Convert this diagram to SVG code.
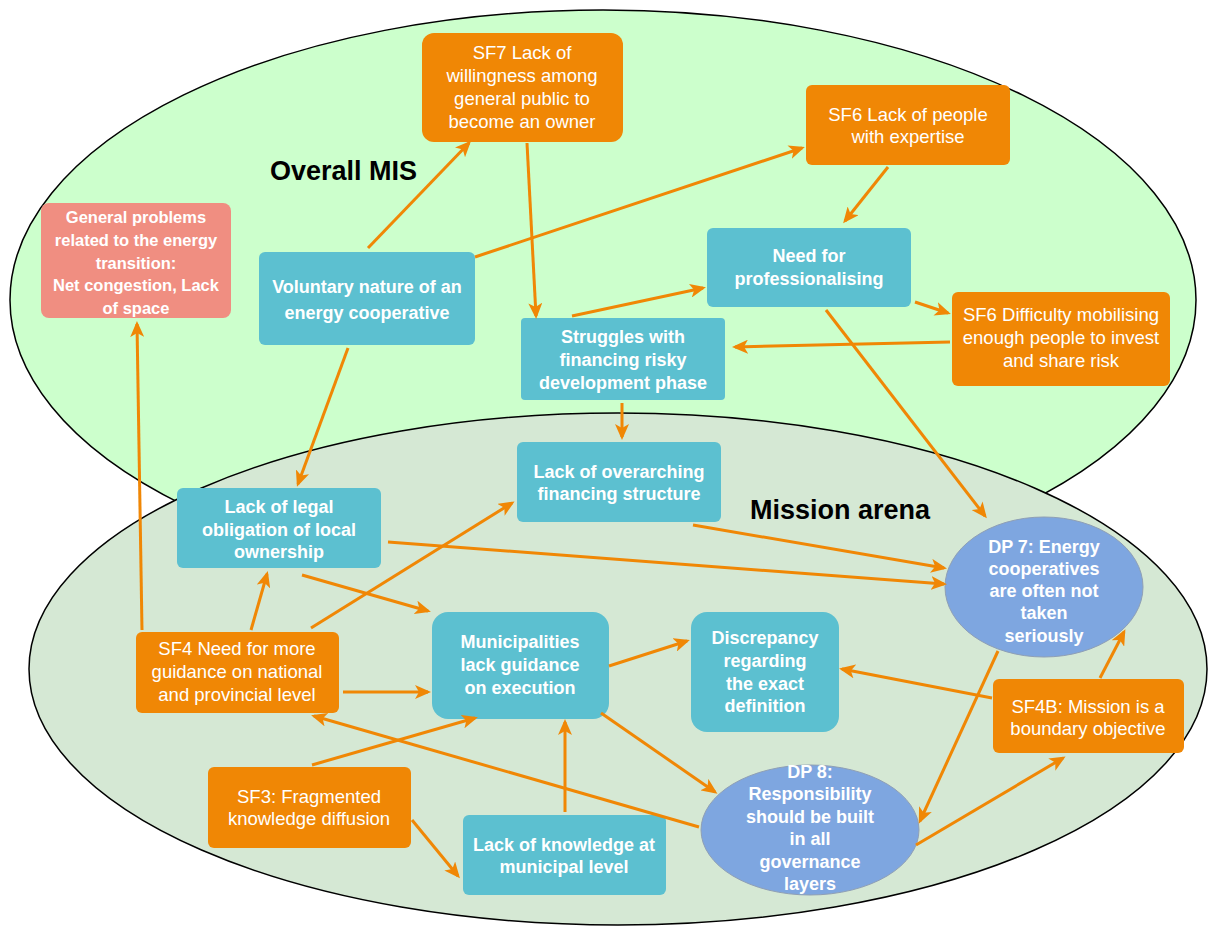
<svg xmlns="http://www.w3.org/2000/svg" width="1210" height="927" viewBox="0 0 1210 927">
<style>
.bg{fill:#ffffff}
.arena{stroke:#000;stroke-width:1.5}
.or{fill:#f08705}
.tl{fill:#5cc0d0}
.bl{fill:#7ea6e0;stroke:#8f9fb5;stroke-width:1}
.sa{fill:#f08e81}
.t{font-family:"Liberation Sans",Arial,sans-serif;fill:#fff;text-anchor:middle}
.tr{font-size:18.5px}
.tb{font-size:18px;font-weight:bold}
.tg{font-size:16.5px;font-weight:bold}
.title{font-family:"Liberation Sans",Arial,sans-serif;font-size:27px;font-weight:bold;fill:#000}
.c line,.c path{stroke:#f08705;stroke-width:3;fill:none;marker-end:url(#ah)}
</style>
<defs>
<marker id="ah" markerUnits="userSpaceOnUse" markerWidth="16" markerHeight="14" refX="13" refY="7" orient="auto">
<path d="M0,0 L16,7 L0,14 L4,7 z" fill="#f08705"/>
</marker>
</defs>
<rect class="bg" x="0" y="0" width="1210" height="927"/>
<g id="overall-mis">
<ellipse class="arena" cx="603" cy="300" rx="593" ry="290" fill="#ccffcc"/>
<text class="title" x="270" y="180">Overall MIS</text>
</g>
<g id="mission-arena">
<ellipse class="arena" cx="618" cy="669" rx="589" ry="256" fill="#d5e8d4"/>
<text class="title" x="750" y="519">Mission arena</text>
</g>

<g id="general-problems">
<rect class="sa" x="41" y="203" width="190" height="115" rx="8"/>
<text class="t tg" x="136"><tspan x="136" y="223">General problems</tspan><tspan x="136" y="246">related to the energy</tspan><tspan x="136" y="269">transition:</tspan><tspan x="136" y="291">Net congestion, Lack</tspan><tspan x="136" y="314">of space</tspan></text>
</g>
<g id="sf7">
<rect class="or" x="422" y="33" width="201" height="109" rx="12"/>
<text class="t tr" x="522"><tspan x="522" y="59">SF7 Lack of</tspan><tspan x="522" y="82">willingness among</tspan><tspan x="522" y="105">general public to</tspan><tspan x="522" y="128">become an owner</tspan></text>
</g>
<g id="sf6-expertise">
<rect class="or" x="806" y="85" width="204" height="80" rx="6"/>
<text class="t tr" x="908"><tspan x="908" y="121">SF6 Lack of people</tspan><tspan x="908" y="143">with expertise</tspan></text>
</g>
<g id="voluntary">
<rect class="tl" x="259" y="252" width="216" height="93" rx="6"/>
<text class="t tb" x="367"><tspan x="367" y="293">Voluntary nature of an</tspan><tspan x="367" y="319">energy cooperative</tspan></text>
</g>
<g id="professionalising">
<rect class="tl" x="707" y="228" width="204" height="79" rx="6"/>
<text class="t tb" x="809"><tspan x="809" y="262">Need for</tspan><tspan x="809" y="285">professionalising</tspan></text>
</g>
<g id="struggles">
<rect class="tl" x="521" y="318" width="204" height="82" rx="4"/>
<text class="t tb" x="623"><tspan x="623" y="343">Struggles with</tspan><tspan x="623" y="366">financing risky</tspan><tspan x="623" y="389">development phase</tspan></text>
</g>
<g id="sf6-mobilising">
<rect class="or" x="952" y="292" width="218" height="94" rx="6"/>
<text class="t tr" x="1061"><tspan x="1061" y="321">SF6 Difficulty mobilising</tspan><tspan x="1061" y="344">enough people to invest</tspan><tspan x="1061" y="367">and share risk</tspan></text>
</g>
<g id="financing-structure">
<rect class="tl" x="517" y="442" width="204" height="80" rx="6"/>
<text class="t tb" x="619"><tspan x="619" y="478">Lack of overarching</tspan><tspan x="619" y="500">financing structure</tspan></text>
</g>
<g id="legal-obligation">
<rect class="tl" x="177" y="488" width="204" height="80" rx="6"/>
<text class="t tb" x="279"><tspan x="279" y="513">Lack of legal</tspan><tspan x="279" y="536">obligation of local</tspan><tspan x="279" y="558">ownership</tspan></text>
</g>
<g id="sf4">
<rect class="or" x="136" y="632" width="203" height="81" rx="6"/>
<text class="t tr" x="237"><tspan x="237" y="655">SF4 Need for more</tspan><tspan x="237" y="678">guidance on national</tspan><tspan x="237" y="701">and provincial level</tspan></text>
</g>
<g id="municipalities">
<rect class="tl" x="432" y="612" width="177" height="107" rx="16"/>
<text class="t tb" x="520"><tspan x="520" y="648">Municipalities</tspan><tspan x="520" y="671">lack guidance</tspan><tspan x="520" y="694">on execution</tspan></text>
</g>
<g id="discrepancy">
<rect class="tl" x="691" y="612" width="148" height="120" rx="16"/>
<text class="t tb" x="765"><tspan x="765" y="644">Discrepancy</tspan><tspan x="765" y="667">regarding</tspan><tspan x="765" y="690">the exact</tspan><tspan x="765" y="712">definition</tspan></text>
</g>
<g id="dp7">
<ellipse class="bl" cx="1044" cy="587" rx="99" ry="70"/>
<text class="t tb" x="1044"><tspan x="1044" y="553">DP 7: Energy</tspan><tspan x="1044" y="575">cooperatives</tspan><tspan x="1044" y="597">are often not</tspan><tspan x="1044" y="619">taken</tspan><tspan x="1044" y="642">seriously</tspan></text>
</g>
<g id="dp8">
<ellipse class="bl" cx="810" cy="830" rx="109" ry="65"/>
<text class="t tb" x="810"><tspan x="810" y="778">DP 8:</tspan><tspan x="810" y="800">Responsibility</tspan><tspan x="810" y="823">should be built</tspan><tspan x="810" y="845">in all</tspan><tspan x="810" y="868">governance</tspan><tspan x="810" y="890">layers</tspan></text>
</g>
<g id="sf3">
<rect class="or" x="208" y="767" width="203" height="81" rx="6"/>
<text class="t tr" x="309"><tspan x="309" y="803">SF3: Fragmented</tspan><tspan x="309" y="825">knowledge diffusion</tspan></text>
</g>
<g id="knowledge-municipal">
<rect class="tl" x="463" y="815" width="203" height="80" rx="6"/>
<text class="t tb" x="564"><tspan x="564" y="851">Lack of knowledge at</tspan><tspan x="564" y="873">municipal level</tspan></text>
</g>
<g id="sf4b">
<rect class="or" x="993" y="679" width="191" height="74" rx="6"/>
<text class="t tr" x="1088"><tspan x="1088" y="713">SF4B: Mission is a</tspan><tspan x="1088" y="735">boundary objective</tspan></text>
</g>

<g id="connectors" class="c">
<line x1="368" y1="248" x2="469" y2="143"/>
<line x1="475" y1="257" x2="802" y2="148"/>
<line x1="527" y1="143" x2="536" y2="316"/>
<line x1="348" y1="348" x2="298" y2="484"/>
<line x1="572" y1="316" x2="703" y2="288"/>
<line x1="888" y1="167" x2="845" y2="221"/>
<line x1="915" y1="302" x2="948" y2="313"/>
<line x1="950" y1="342" x2="735" y2="347"/>
<line x1="622" y1="403" x2="622" y2="437"/>
<line x1="826" y1="310" x2="985" y2="516"/>
<line x1="693" y1="525" x2="944" y2="568"/>
<line x1="388" y1="542" x2="944" y2="584"/>
<line x1="302" y1="575" x2="428" y2="611"/>
<line x1="251" y1="630" x2="267" y2="574"/>
<line x1="311" y1="628" x2="512" y2="503"/>
<line x1="343" y1="692" x2="428" y2="692"/>
<line x1="609" y1="666" x2="687" y2="641"/>
<line x1="312" y1="765" x2="475" y2="718"/>
<line x1="412" y1="820" x2="458" y2="876"/>
<line x1="565" y1="812" x2="565" y2="722"/>
<line x1="601" y1="713" x2="715" y2="792"/>
<line x1="699" y1="827" x2="314" y2="716"/>
<line x1="998" y1="651" x2="920" y2="821"/>
<line x1="916" y1="845" x2="1063" y2="758"/>
<line x1="1100" y1="678" x2="1124" y2="632"/>
<line x1="992" y1="698" x2="842" y2="669"/>
<line x1="142" y1="630" x2="137" y2="324"/>
</g>
</svg>
